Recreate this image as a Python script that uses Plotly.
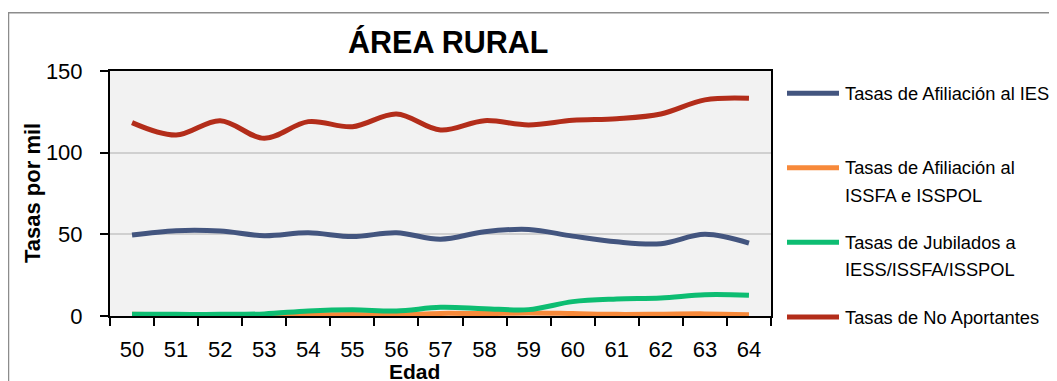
import plotly.graph_objects as go

edades = ["50", "51", "52", "53", "54", "55", "56", "57", "58", "59", "60", "61", "62", "63", "64"]

afiliacion_iess = [49.6, 52.2, 52.0, 49.2, 51.0, 48.6, 51.0, 47.0, 51.6, 53.0, 48.9, 45.4, 44.3, 50.0, 44.6]
afiliacion_issfa = [1.0, 0.4, 0.3, 0.3, 0.6, 0.9, 0.6, 1.6, 1.5, 1.9, 1.5, 1.0, 1.1, 1.3, 0.7]
jubilados = [1.0, 1.0, 1.0, 1.3, 3.1, 3.8, 3.1, 5.3, 4.5, 3.9, 8.8, 10.4, 11.0, 13.0, 12.7]
no_aportantes = [118.4, 110.8, 119.6, 108.8, 119.0, 115.9, 123.7, 113.9, 119.6, 117.0, 119.8, 120.8, 123.7, 132.3, 133.3]

series_names = [
    ["Tasas de Afiliación al IESS"],
    ["Tasas de Afiliación al", "ISSFA e ISSPOL"],
    ["Tasas de Jubilados a", "IESS/ISSFA/ISSPOL"],
    ["Tasas de No Aportantes"],
]
series_values = [afiliacion_iess, afiliacion_issfa, jubilados, no_aportantes]
series_colors = ["#43557f", "#f7893a", "#0dbd72", "#b32d1a"]

FONT = "Liberation Sans, Arial, sans-serif"
OFF = 8  # page body margin
W, H = 1057 - OFF, 381 - OFF
# plot area in window pixels: x 110..771, y 71..316
L, T = 110 - OFF, 71 - OFF
R = W - (771 - OFF)
B = H - (316 - OFF)
PW, PH = W - L - R, H - T - B


def px(x):
    return (x - OFF - L) / PW


def py(y):
    return (H - B - (y - OFF)) / PH


fig = go.Figure()
for name, vals, col in zip(series_names, series_values, series_colors):
    fig.add_trace(go.Scatter(
        x=edades, y=vals, mode="lines", name=" ".join(name),
        line=dict(color=col, width=5, shape="spline", smoothing=1.0),
        showlegend=False, cliponaxis=False,
    ))

shapes = []
annotations = []
# outer chart frame
shapes.append(dict(type="rect", xref="paper", yref="paper",
                   x0=px(8.5), x1=px(1300), y0=py(600), y1=py(12.7),
                   line=dict(color="#8c8c8c", width=1.5), fillcolor="rgba(0,0,0,0)", layer="below"))

# manual legend
legend_y = [[93.3], [167.7, 195.0], [242.3, 269.5], [317.0]]
for lines, ys, col in zip(series_names, legend_y, series_colors):
    shapes.append(dict(type="line", xref="paper", yref="paper",
                       x0=px(787), x1=px(839), y0=py(ys[0]), y1=py(ys[0]),
                       line=dict(color=col, width=5)))
    for txt, yy in zip(lines, ys):
        annotations.append(dict(text=txt, xref="paper", yref="paper", x=px(843), y=py(yy),
                                xanchor="left", yanchor="middle", showarrow=False,
                                font=dict(family=FONT, size=18.3, color="#000000")))

annotations.append(dict(text="<b>ÁREA RURAL</b>", xref="paper", yref="paper", x=px(448), y=py(42),
                        xanchor="center", yanchor="middle", showarrow=False,
                        font=dict(family=FONT, size=30.5, color="#000000")))
annotations.append(dict(text="<b>Tasas por mil</b>", xref="paper", yref="paper", x=px(32), y=py(193),
                        xanchor="center", yanchor="middle", showarrow=False, textangle=-90,
                        font=dict(family=FONT, size=22, color="#000000")))
annotations.append(dict(text="<b>Edad</b>", xref="paper", yref="paper", x=px(414), y=py(371.5),
                        xanchor="center", yanchor="middle", showarrow=False,
                        font=dict(family=FONT, size=21, color="#000000")))

fig.update_layout(
    width=W, height=H,
    margin=dict(l=L, r=R, t=T, b=B, pad=0),
    paper_bgcolor="#ffffff", plot_bgcolor="#f2f2f2",
    shapes=shapes, annotations=annotations,
    font=dict(family=FONT, color="#000000"),
)
fig.update_xaxes(
    type="category", range=[-0.5, len(edades) - 0.5], tickson="boundaries",
    ticks="outside", ticklen=8, tickwidth=2, tickcolor="#000000",
    showline=True, linecolor="#000000", linewidth=2, mirror=True, showgrid=False,
    tickfont=dict(family=FONT, size=22, color="#000000"), ticklabelstandoff=13,
)
fig.update_yaxes(
    range=[0, 150], tickvals=[0, 50, 100, 150], ticks="outside", ticklen=8, tickwidth=2, tickcolor="#000000",
    showline=True, linecolor="#000000", linewidth=2, mirror=True,
    showgrid=True, gridcolor="#d0d0d0", gridwidth=1.5, zeroline=False,
    tickfont=dict(family=FONT, size=22, color="#000000"), ticklabelstandoff=13,
)

fig.write_html("out.html")
